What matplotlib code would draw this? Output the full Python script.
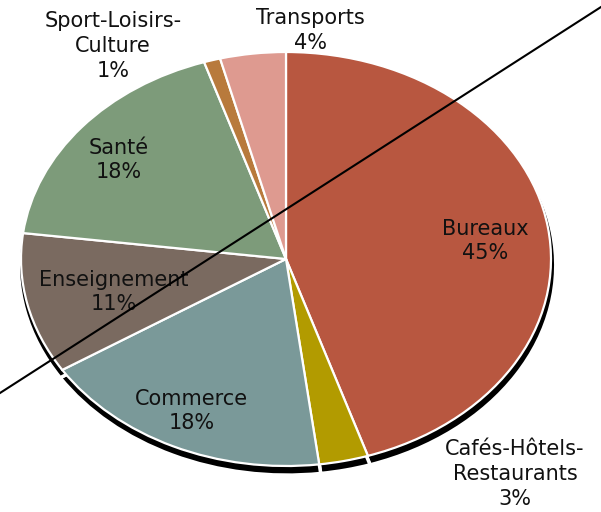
import matplotlib
matplotlib.use("Agg")
import matplotlib.pyplot as plt
from matplotlib.lines import Line2D

# data: share of each sector, clockwise from 12 o'clock
sectors = ["Bureaux", "Cafés-Hôtels-\nRestaurants", "Commerce", "Enseignement",
           "Santé", "Sport-Loisirs-\nCulture", "Transports"]
shares = [45, 3, 18, 11, 18, 1, 4]
colors = ["#B85740", "#B29B00", "#7A9999", "#7A6A60", "#7D9B7A", "#B87A3C", "#DE9A90"]

# label anchors in pie units (layout only)
label_xy = [(0.751, 0.087), (0.864, -1.04), (-0.355, -0.734), (-0.649, -0.159),
            (-0.630, 0.478), (-0.653, 1.029), (0.091, 1.105)]
label_z = [3, 0.5, 3, 3, 3, 0.5, 0.5]

fig = plt.figure(figsize=(6.01, 5.12), dpi=100)
ax = fig.add_axes([21/601, 46/512, 530/601, 414/512])

# shadow: black copy a few pixels lower, white gaps between slices
ax.pie(shares, startangle=90, counterclock=False, radius=1.014, center=(0.004, -0.03),
       colors=["black"]*len(shares), wedgeprops=dict(edgecolor="white", linewidth=2.5))
ax.pie(shares, startangle=90, counterclock=False, radius=1.0, colors=colors,
       wedgeprops=dict(edgecolor="white", linewidth=1.6))
ax.set_aspect("auto")
ax.set_xlim(-1, 1); ax.set_ylim(-1, 1)
ax.axis("off")

for name, v, (x, y), z in zip(sectors, shares, label_xy, label_z):
    ax.text(x, y, f"{name}\n{v}%", ha="center", va="center", fontsize=15,
            family="DejaVu Sans", color="#111111", linespacing=1.3, zorder=z)

# diagonal stroke across the whole picture
fig.add_artist(Line2D([0, 1], [1 - 393/512, 1 - 7/512], transform=fig.transFigure,
                      color="black", lw=1.5))

fig.savefig("out.png", dpi=100)
